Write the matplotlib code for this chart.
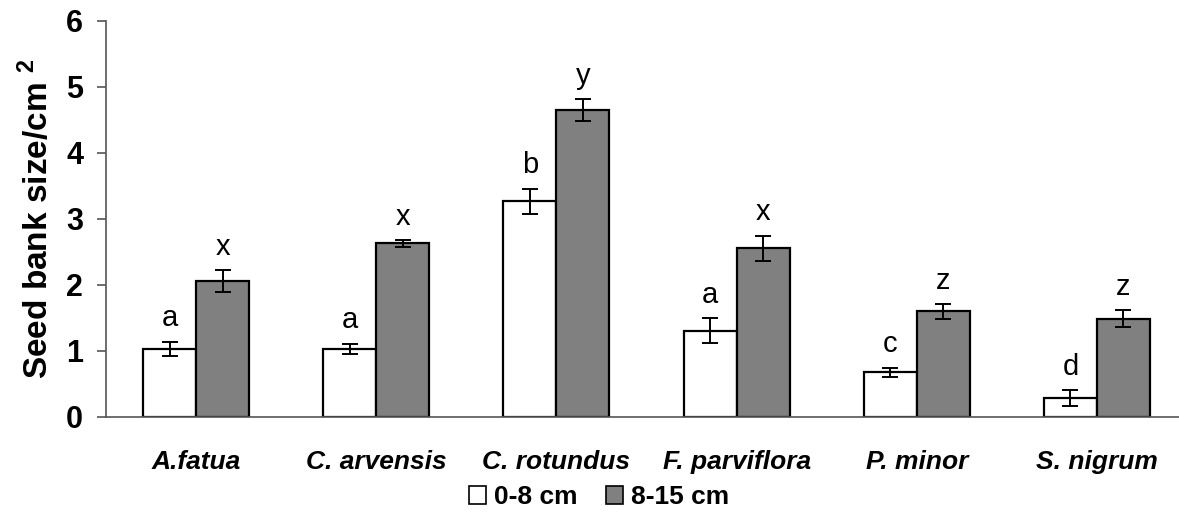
import matplotlib
matplotlib.use("Agg")
import matplotlib.pyplot as plt
import numpy as np
from matplotlib.patches import Patch

plt.rcParams["font.family"] = ["Liberation Sans", "DejaVu Sans"]
plt.rcParams["mathtext.fontset"] = "custom"
plt.rcParams["mathtext.rm"] = "Liberation Sans"
plt.rcParams["mathtext.bf"] = "Liberation Sans:bold"

# ── DATA ──
species = ["A.fatua", "C. arvensis", "C. rotundus", "F. parviflora", "P. minor", "S. nigrum"]
depths = ["0-8 cm", "8-15 cm"]

shallow_mean = [1.03, 1.03, 3.27, 1.31, 0.68, 0.29]
shallow_err = [0.11, 0.08, 0.19, 0.19, 0.07, 0.12]
shallow_letters = ["a", "a", "b", "a", "c", "d"]

deep_mean = [2.06, 2.63, 4.65, 2.56, 1.60, 1.49]
deep_err = [0.16, 0.05, 0.17, 0.19, 0.11, 0.13]
deep_letters = ["x", "x", "y", "x", "z", "z"]

colors = ["white", "#808080"]

# ── FIGURE ──
fig = plt.figure(figsize=(11.79, 5.17), dpi=100)
ax = fig.add_axes([106 / 1179, 1 - 417 / 517, (1187 - 106) / 1179, (417 - 21) / 517])

x = np.arange(len(species))
w = 0.294

series = [
    (shallow_mean, shallow_err, shallow_letters, -w / 2),
    (deep_mean, deep_err, deep_letters, w / 2),
]
for (means, errs, letters, off), col in zip(series, colors):
    ax.bar(x + off, means, width=w, color=col, edgecolor="black", linewidth=1.6, zorder=2)
    ax.errorbar(x + off, means, yerr=errs, fmt="none", ecolor="black",
                elinewidth=1.4, capsize=5.5, capthick=1.4, zorder=3)
    for xi, m, e, lab in zip(x + off, means, errs, letters):
        ax.annotate(lab, (xi, m + e), xytext=(0, 11), textcoords="offset points",
                    ha="center", va="baseline", fontsize=21)

ax.set_xlim(-0.5, len(species) - 0.5)
ax.set_ylim(0, 6)
ax.set_yticks(range(0, 7))
ax.set_xticks(x)
ax.set_xticklabels(species, fontsize=19, fontweight="bold", fontstyle="italic")
ax.tick_params(axis="x", length=0, pad=24)
ax.tick_params(axis="y", length=6.5, width=1.2, color="#555555", labelsize=22, pad=10)
for lbl in ax.get_yticklabels():
    lbl.set_fontweight("bold")

for side in ["top", "right"]:
    ax.spines[side].set_visible(False)
for side in ["left", "bottom"]:
    ax.spines[side].set_color("#555555")
    ax.spines[side].set_linewidth(1.2)

ax.set_ylabel(r"Seed bank size/cm $^{\mathbf{2}}$", fontsize=24, fontweight="bold", labelpad=8)

handles = [Patch(facecolor=c, edgecolor="black", linewidth=1.2) for c in colors]
fig.legend(handles, depths, loc="center", bbox_to_anchor=(0.508, 0.038), ncol=2,
           frameon=False, prop={"size": 19, "weight": "bold"},
           handlelength=0.65, handleheight=0.65, handletextpad=0.3, columnspacing=1.1)

fig.savefig("out.png", dpi=100)
